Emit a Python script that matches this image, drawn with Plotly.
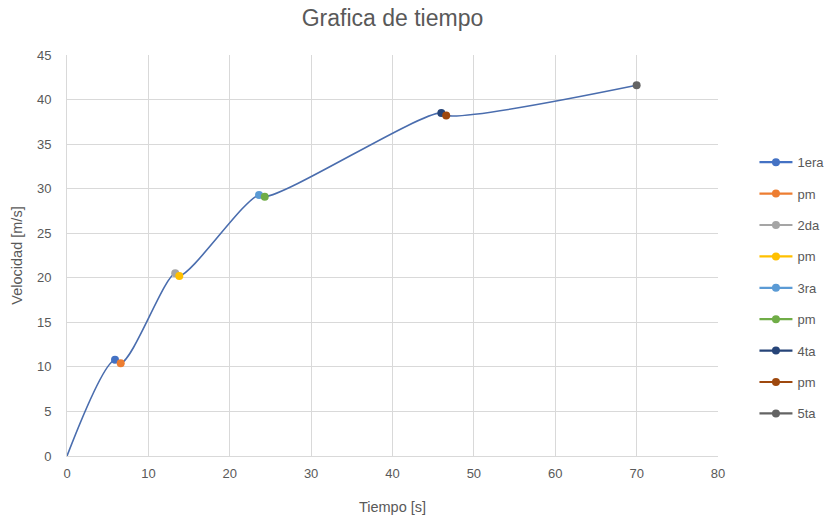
import plotly.graph_objects as go

names = ["1era", "pm", "2da", "pm", "3ra", "pm", "4ta", "pm", "5ta"]
t_vals = [5.9, 6.6, 13.3, 13.8, 23.6, 24.3, 46.0, 46.6, 70.0]
v_vals = [10.8, 10.4, 20.5, 20.2, 29.3, 29.1, 38.5, 38.2, 41.6]
colors = ["#4472C4", "#ED7D31", "#A5A5A5", "#FFC000", "#5B9BD5",
          "#70AD47", "#264478", "#9E480E", "#636363"]

line_t = [0.0] + t_vals
line_v = [0.0] + v_vals

font = "Liberation Sans, Open Sans, sans-serif"
grey = "#595959"

W, H = 831, 518

fig = go.Figure()
fig.add_trace(go.Scatter(x=line_t, y=line_v, mode="lines",
                         line=dict(color="#4A6DAE", width=1.6, shape="spline", smoothing=1.3),
                         showlegend=False, hoverinfo="skip"))
for i, (n, t, v, c) in enumerate(zip(names, t_vals, v_vals, colors)):
    fig.add_trace(go.Scatter(x=[t], y=[v], mode="lines+markers", name=n,
                             legendgroup=f"g{i}",
                             line=dict(color=c, width=2.2),
                             marker=dict(color=c, size=8)))

fig.update_layout(
    width=W, height=H,
    paper_bgcolor="white", plot_bgcolor="white",
    margin=dict(l=67, r=113, t=55, b=62, autoexpand=False),
    title=dict(text="Grafica de tiempo", x=0.5, xref="paper", xanchor="center",
               y=1 - 18 / H, yref="container", yanchor="middle",
               font=dict(family=font, size=23, color=grey)),
    font=dict(family=font, size=12, color=grey),
    legend=dict(x=1.056, y=0.77, xanchor="left", yanchor="top",
                tracegroupgap=11.5, itemwidth=33, font=dict(size=13, color=grey),
                bgcolor="rgba(0,0,0,0)"),
    xaxis=dict(range=[0, 80], dtick=10, showgrid=True, gridcolor="#D9D9D9",
               zeroline=False, showline=True, linecolor="#D9D9D9",
               ticks="", ticklabelstandoff=5, automargin=False,
               title=dict(text="Tiempo [s]", standoff=22, font=dict(size=14.5, color=grey)),
               tickfont=dict(size=13, color=grey)),
    yaxis=dict(range=[0, 45], dtick=5, showgrid=True, gridcolor="#D9D9D9",
               zeroline=False, showline=True, linecolor="#D9D9D9",
               ticks="", ticklabelstandoff=12, automargin=False,
               title=dict(text="Velocidad [m/s]", standoff=10, font=dict(size=14.5, color=grey)),
               tickfont=dict(size=13, color=grey)),
)

fig.write_html("out.html", config={"displayModeBar": False},
               post_script="document.body.style.margin='0';document.body.style.overflow='hidden';")
